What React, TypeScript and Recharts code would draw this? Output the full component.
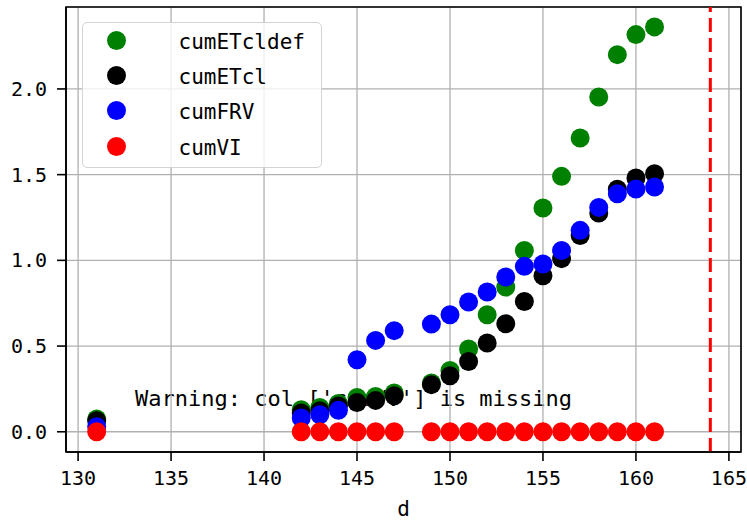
import React from 'react';
import { ScatterChart, Scatter, XAxis, YAxis, CartesianGrid, ReferenceLine, ReferenceArea } from 'recharts';

const days = [131, 142, 143, 144, 145, 146, 147, 149, 150, 151, 152, 153, 154, 155, 156, 157, 158, 159, 160, 161];
const cumETcldef = [0.075, 0.128, 0.142, 0.165, 0.2, 0.206, 0.226, 0.285, 0.358, 0.483, 0.683, 0.844, 1.058, 1.305, 1.49, 1.714, 1.953, 2.2, 2.317, 2.362];
const cumETcl = [0.065, 0.109, 0.123, 0.15, 0.171, 0.183, 0.21, 0.275, 0.327, 0.41, 0.518, 0.63, 0.76, 0.91, 1.01, 1.145, 1.276, 1.415, 1.48, 1.505];
const cumFRV = [0.03, 0.08, 0.099, 0.125, 0.42, 0.533, 0.59, 0.628, 0.683, 0.757, 0.815, 0.903, 0.965, 0.979, 1.058, 1.175, 1.309, 1.389, 1.416, 1.428];
const cumVI = [0, 0, 0, 0, 0, 0, 0, 0, 0, 0, 0, 0, 0, 0, 0, 0, 0, 0, 0, 0];

const seriesNames = ['cumETcldef', 'cumETcl', 'cumFRV', 'cumVI'];
const seriesValues = [cumETcldef, cumETcl, cumFRV, cumVI];
const seriesColors = ['#008000', '#000000', '#0000ff', '#ff0000'];

const xTicks = [130, 135, 140, 145, 150, 155, 160, 165];
const yTicks = [0, 0.5, 1.0, 1.5, 2.0];
const xDomain: [number, number] = [129.35, 165.65];
const yDomain: [number, number] = [-0.118, 2.478];
const cutoffDay = 164;
const xLabel = 'd';
const warningText = "Warning: col ['cumVV'] is missing";

const FONT = "'DejaVu Sans Mono', monospace";

const makeDot = (color: string) => (props: any) => {
  if (props.cx == null || props.cy == null) return <g />;
  return <circle cx={props.cx} cy={props.cy} r={9.5} fill={color} />;
};

export default function App() {
  const seriesData = seriesValues.map((vals) => days.map((d, i) => ({ d, v: vals[i] })));
  return (
    <div style={{ position: 'absolute', left: 0, top: 0, width: 747, height: 522, background: '#fff' }}>
      <svg width={747} height={522} style={{ position: 'absolute', left: 0, top: 0 }}>
        <text x={135} y={406} fontFamily={FONT} fontSize={22} fill="#000">{warningText}</text>
      </svg>
      <div style={{ position: 'absolute', left: 0, top: 0 }}>
        <ScatterChart width={747} height={522} margin={{ top: 7, right: 6, bottom: 0, left: 0 }}>
          <CartesianGrid stroke="#b0b0b0" strokeWidth={1.3} />
          <XAxis
            type="number"
            dataKey="d"
            domain={xDomain}
            ticks={xTicks}
            allowDataOverflow
            height={70}
            tickSize={9}
            tickMargin={10}
            tick={{ fill: '#000', fontSize: 20, fontFamily: FONT }}
            axisLine={{ stroke: '#000', strokeWidth: 1.6 }}
            tickLine={{ stroke: '#000', strokeWidth: 1.6 }}
            label={{ value: xLabel, position: 'insideBottom', offset: 6, fill: '#000', fontSize: 21, fontFamily: FONT }}
          />
          <YAxis
            type="number"
            dataKey="v"
            domain={yDomain}
            ticks={yTicks}
            allowDataOverflow
            width={66}
            tickSize={9}
            tickMargin={10}
            tickFormatter={(v: number) => v.toFixed(1)}
            tick={{ fill: '#000', fontSize: 20, fontFamily: FONT }}
            axisLine={{ stroke: '#000', strokeWidth: 1.6 }}
            tickLine={{ stroke: '#000', strokeWidth: 1.6 }}
          />
          {seriesData.map((data, i) => (
            <Scatter
              key={seriesNames[i]}
              name={seriesNames[i]}
              data={data}
              fill={seriesColors[i]}
              shape={makeDot(seriesColors[i])}
              isAnimationActive={false}
            />
          ))}
          <ReferenceLine x={cutoffDay} stroke="#ff0000" strokeWidth={3} strokeDasharray="14 6" />
          <ReferenceArea
            x1={xDomain[0]}
            x2={xDomain[1]}
            y1={yDomain[0]}
            y2={yDomain[1]}
            fill="none"
            fillOpacity={0}
            stroke="#000"
            strokeWidth={1.6}
          />
        </ScatterChart>
      </div>
      <div
        style={{
          position: 'absolute',
          left: 82,
          top: 22,
          width: 240,
          height: 146,
          boxSizing: 'border-box',
          border: '1.5px solid #d4d4d4',
          borderRadius: 5,
          background: 'rgba(255,255,255,0.8)',
        }}
      >
        {seriesNames.map((name, i) => (
          <div key={name} style={{ position: 'absolute', left: 0, top: 18.7 + 35.3 * i - 15, height: 30, width: 240 }}>
            <div
              style={{
                position: 'absolute',
                left: 25.5 - 1.5,
                top: 5.5 - 1.5,
                width: 19,
                height: 19,
                borderRadius: '50%',
                background: seriesColors[i],
              }}
            />
            <div
              style={{
                position: 'absolute',
                left: 97 - 1.5,
                top: 0,
                height: 30,
                lineHeight: '30px',
                fontFamily: FONT,
                fontSize: 21,
                color: '#000',
                whiteSpace: 'nowrap',
              }}
            >
              {name}
            </div>
          </div>
        ))}
      </div>
    </div>
  );
}
